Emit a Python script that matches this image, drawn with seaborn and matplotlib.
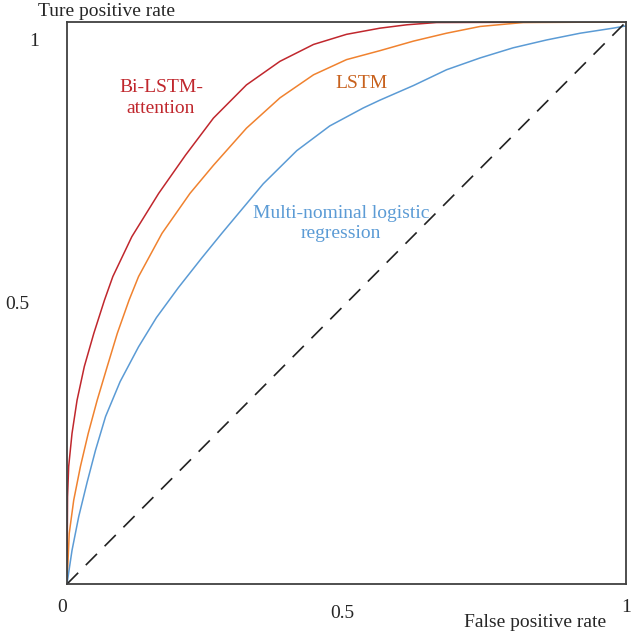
import numpy as np
import pandas as pd
import seaborn as sns
import matplotlib.pyplot as plt
from matplotlib.transforms import ScaledTranslation

# ROC points (false positive rate, true positive rate)
bi_fpr = [0.0, 0.001, 0.003, 0.009, 0.018, 0.031, 0.048, 0.067, 0.082, 0.116, 0.164,
          0.212, 0.262, 0.321, 0.381, 0.441, 0.500, 0.560, 0.608, 0.661, 1.0]
bi_tpr = [0.0, 0.155, 0.209, 0.268, 0.327, 0.387, 0.446, 0.505, 0.547, 0.618, 0.695,
          0.763, 0.829, 0.888, 0.930, 0.960, 0.978, 0.989, 0.995, 0.999, 1.0]

lstm_fpr = [0.0, 0.004, 0.012, 0.024, 0.038, 0.054, 0.072, 0.090, 0.111, 0.128, 0.170,
            0.220, 0.262, 0.321, 0.381, 0.441, 0.500, 0.560, 0.620, 0.679, 0.739, 0.816, 1.0]
lstm_tpr = [0.0, 0.090, 0.149, 0.209, 0.268, 0.327, 0.387, 0.446, 0.505, 0.547, 0.624,
            0.695, 0.745, 0.811, 0.865, 0.906, 0.933, 0.949, 0.966, 0.980, 0.992, 0.999, 1.0]

mnl_fpr = [0.0, 0.009, 0.021, 0.036, 0.051, 0.069, 0.095, 0.128, 0.160, 0.199,
           0.241, 0.277, 0.351, 0.411, 0.470, 0.530, 0.560, 0.620, 0.679, 0.739,
           0.798, 0.858, 0.918, 0.977, 1.0]
mnl_tpr = [0.0, 0.060, 0.120, 0.181, 0.238, 0.298, 0.360, 0.422, 0.474, 0.527,
           0.580, 0.624, 0.712, 0.771, 0.815, 0.847, 0.861, 0.887, 0.915, 0.936,
           0.954, 0.968, 0.980, 0.989, 0.993]

diag = [0.0, 1.0]

sns.set_style('white')
plt.rcParams['font.family'] = ['Liberation Serif', 'DejaVu Serif']

fig = plt.figure(figsize=(6.32, 6.35), dpi=100)
ax = fig.add_axes([0.106, 0.0803, 0.8845, 0.8851])

sns.lineplot(x=bi_fpr, y=bi_tpr, ax=ax, color='#C0272D', lw=1.1, sort=False, estimator=None)
sns.lineplot(x=lstm_fpr, y=lstm_tpr, ax=ax, color='#F0822F', lw=1.1, sort=False, estimator=None)
sns.lineplot(x=mnl_fpr, y=mnl_tpr, ax=ax, color='#5B9BD5', lw=1.1, sort=False, estimator=None)
ax.plot(diag, diag, color='#222222', lw=1.2, dashes=(9.5, 6.5))

ax.set_xlim(0, 1)
ax.set_ylim(0, 1)
ax.set_xticks([0, 0.5, 1])
ax.set_xticklabels(['0', '0.5', '1'], fontsize=14)
ax.set_yticks([0.5, 1])
ax.set_yticklabels(['0.5', '1'], fontsize=14)
ax.tick_params(axis='x', length=0, pad=11)
ax.tick_params(axis='y', length=0, pad=27)
for s in ax.spines.values():
    s.set_color('#404040')
    s.set_linewidth(1.3)

# nudge a few tick labels to where they sit in the original
def nudge(lbl, dx, dy):
    lbl.set_transform(lbl.get_transform() + ScaledTranslation(dx / 100, dy / 100, fig.dpi_scale_trans))

xl = ax.get_xticklabels()
nudge(xl[0], -5, 0)
nudge(xl[1], -4, -6)
yl = ax.get_yticklabels()
nudge(yl[1], 10, -18)

ax.text(-0.052, 1.003, 'Ture positive rate', transform=ax.transAxes, fontsize=14, va='bottom', ha='left')
ax.text(0.837, -0.068, 'False positive rate', transform=ax.transAxes, fontsize=14, va='center', ha='center')

ax.text(0.168, 0.865, 'Bi-LSTM-\nattention', color='#C0272D', fontsize=14, ha='center', va='center',
        linespacing=1.27)
ax.text(0.526, 0.89, 'LSTM', color='#C8621E', fontsize=14, ha='center', va='center')
ax.text(0.49, 0.642, 'Multi-nominal logistic\nregression', color='#5B9BD5', fontsize=14,
        ha='center', va='center', linespacing=1.25)

fig.savefig('out.png', dpi=100)
